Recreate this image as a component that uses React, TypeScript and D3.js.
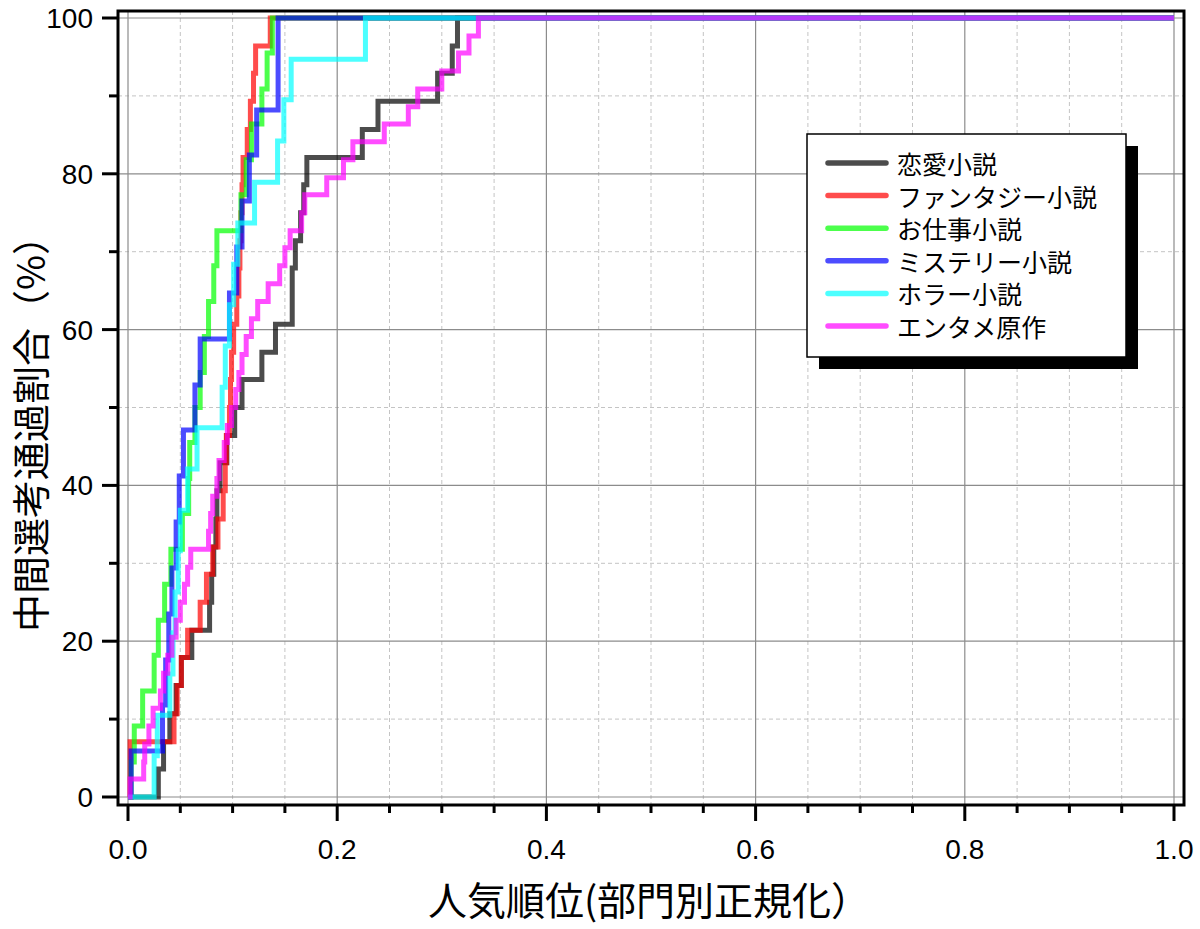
import { useEffect, useRef } from "react"
import * as d3 from "d3"

// step positions (normalized rank) and cumulative pass ratio (%)
const romanceX = [0.029, 0.034, 0.04, 0.046, 0.051, 0.061, 0.078, 0.08, 0.082, 0.084, 0.085, 0.088, 0.0945, 0.102, 0.109, 0.128, 0.141, 0.157, 0.157, 0.16, 0.165, 0.168, 0.171, 0.224, 0.239, 0.296, 0.31, 0.315]
const romanceY = [3.6, 7.1, 10.7, 14.3, 17.9, 21.4, 25.0, 28.6, 32.1, 35.7, 39.3, 42.9, 46.4, 50.0, 53.6, 57.1, 60.7, 64.3, 67.9, 71.4, 75.0, 78.6, 82.1, 85.7, 89.3, 92.9, 96.4, 100]

const fantasyX = [0.002, 0.002, 0.044, 0.047, 0.051, 0.057, 0.069, 0.075, 0.081, 0.086, 0.091, 0.093, 0.094, 0.097, 0.098, 0.099, 0.101, 0.104, 0.106, 0.107, 0.108, 0.109, 0.11, 0.114, 0.117, 0.12, 0.122, 0.136]
const fantasyY = [3.6, 7.1, 10.7, 14.3, 17.9, 21.4, 25.0, 28.6, 32.1, 35.7, 39.3, 42.9, 46.4, 50.0, 53.6, 57.1, 60.7, 64.3, 67.9, 71.4, 75.0, 78.6, 82.1, 85.7, 89.3, 92.9, 96.4, 100]

const workX = [0.003, 0.006, 0.014, 0.025, 0.029, 0.035, 0.041, 0.052, 0.058, 0.059, 0.064, 0.069, 0.073, 0.077, 0.082, 0.085, 0.108, 0.113, 0.118, 0.128, 0.133, 0.138]
const workY = [4.5, 9.1, 13.6, 18.2, 22.7, 27.3, 31.8, 36.4, 40.9, 45.5, 50.0, 54.5, 59.1, 63.6, 68.2, 72.7, 77.3, 81.8, 86.4, 90.9, 95.5, 100]

const mysteryX = [0.003, 0.033, 0.036, 0.039, 0.042, 0.046, 0.049, 0.053, 0.064, 0.069, 0.097, 0.104, 0.109, 0.116, 0.123, 0.1435, 0.1435]
const mysteryY = [5.9, 11.8, 17.6, 23.5, 29.4, 35.3, 41.2, 47.1, 52.9, 58.8, 64.7, 70.6, 76.5, 82.4, 88.2, 94.1, 100]

const horrorX = [0.025, 0.028, 0.04, 0.043, 0.045, 0.048, 0.05, 0.057, 0.066, 0.09, 0.093, 0.097, 0.101, 0.105, 0.121, 0.143, 0.149, 0.156, 0.227]
const horrorY = [5.3, 10.5, 15.8, 21.1, 26.3, 31.6, 36.8, 42.1, 47.4, 52.6, 57.9, 63.2, 68.4, 73.7, 78.9, 84.2, 89.5, 94.7, 100]

const entameX = [0.002, 0.015, 0.016, 0.02, 0.024, 0.031, 0.034, 0.038, 0.042, 0.046, 0.05, 0.054, 0.057, 0.06, 0.077, 0.079, 0.081, 0.085, 0.087, 0.092, 0.095, 0.099, 0.103, 0.106, 0.109, 0.113, 0.118, 0.124, 0.134, 0.145, 0.15, 0.155, 0.166, 0.169, 0.19, 0.206, 0.215, 0.245, 0.268, 0.277, 0.3, 0.316, 0.326, 0.335]
const entameY = [2.3, 4.5, 6.8, 9.1, 11.4, 13.6, 15.9, 18.2, 20.5, 22.7, 25.0, 27.3, 29.5, 31.8, 34.1, 36.4, 38.6, 40.9, 43.2, 45.5, 47.7, 50.0, 52.3, 54.5, 56.8, 59.1, 61.4, 63.6, 65.9, 68.2, 70.5, 72.7, 75.0, 77.3, 79.5, 81.8, 84.1, 86.4, 88.6, 90.9, 93.2, 95.5, 97.7, 100]

const seriesNames = ["恋愛小説", "ファンタジー小説", "お仕事小説", "ミステリー小説", "ホラー小説", "エンタメ原作"]
const seriesX = [romanceX, fantasyX, workX, mysteryX, horrorX, entameX]
const seriesY = [romanceY, fantasyY, workY, mysteryY, horrorY, entameY]
const seriesColors = ["#000000", "#ff0000", "#00ff00", "#0000ff", "#00ffff", "#ff00ff"]

const xTicks = [0, 0.2, 0.4, 0.6, 0.8, 1.0]
const yTicks = [0, 20, 40, 60, 80, 100]

const xTitle = "人気順位(部門別正規化）"
const yTitle = "中間選考通過割合（%）"

export default function App() {
  const svgRef = useRef<SVGSVGElement>(null)

  useEffect(() => {
    if (!svgRef.current) return
    const svg = d3.select(svgRef.current)
    svg.selectAll("*").remove()

    const width = 1200
    const height = 929
    const frame = { left: 118, top: 11, right: 1184, bottom: 805 }
    const numFont = "'Liberation Sans', Arial, sans-serif"
    const jpFont = "'Noto Sans CJK JP', 'Noto Sans', sans-serif"

    svg.attr("width", width).attr("height", height)
    svg.append("rect").attr("width", width).attr("height", height).attr("fill", "#fff")

    const x = d3.scaleLinear().domain([0, 1]).range([128, 1174])
    const y = d3.scaleLinear().domain([0, 100]).range([797, 18])

    // grid: dashed minor, solid major
    const grid = svg.append("g")
    const xMinor = d3.range(0, 1.0001, 0.05).filter((v) => Math.abs(v / 0.2 - Math.round(v / 0.2)) > 1e-6)
    const yMinor = d3.range(10, 100, 20)

    grid
      .selectAll("line.xminor")
      .data(xMinor)
      .enter()
      .append("line")
      .attr("x1", (d) => x(d))
      .attr("x2", (d) => x(d))
      .attr("y1", frame.top)
      .attr("y2", frame.bottom)
      .attr("stroke", "#c4c4c4")
      .attr("stroke-width", 1)
      .attr("stroke-dasharray", "4,3")

    grid
      .selectAll("line.yminor")
      .data(yMinor)
      .enter()
      .append("line")
      .attr("x1", frame.left)
      .attr("x2", frame.right)
      .attr("y1", (d) => y(d))
      .attr("y2", (d) => y(d))
      .attr("stroke", "#c4c4c4")
      .attr("stroke-width", 1)
      .attr("stroke-dasharray", "4,3")

    grid
      .selectAll("line.xmajor")
      .data(xTicks)
      .enter()
      .append("line")
      .attr("x1", (d) => x(d))
      .attr("x2", (d) => x(d))
      .attr("y1", frame.top)
      .attr("y2", frame.bottom)
      .attr("stroke", "#8c8c8c")
      .attr("stroke-width", 1.2)

    grid
      .selectAll("line.ymajor")
      .data(yTicks)
      .enter()
      .append("line")
      .attr("x1", frame.left)
      .attr("x2", frame.right)
      .attr("y1", (d) => y(d))
      .attr("y2", (d) => y(d))
      .attr("stroke", "#8c8c8c")
      .attr("stroke-width", 1.2)

    // step lines
    const line = d3
      .line<[number, number]>()
      .x((d) => x(d[0]))
      .y((d) => y(d[1]))
      .curve(d3.curveStepAfter)

    seriesNames.forEach((name, i) => {
      const pts: [number, number][] = [[0, 0]]
      seriesX[i].forEach((v, j) => pts.push([v, seriesY[i][j]]))
      pts.push([1, 100])
      svg
        .append("path")
        .datum(pts)
        .attr("fill", "none")
        .attr("stroke", seriesColors[i])
        .attr("stroke-opacity", 0.7)
        .attr("stroke-width", 5)
        .attr("stroke-linejoin", "miter")
        .attr("d", line)
    })

    // frame
    svg
      .append("rect")
      .attr("x", frame.left)
      .attr("y", frame.top)
      .attr("width", frame.right - frame.left)
      .attr("height", frame.bottom - frame.top)
      .attr("fill", "none")
      .attr("stroke", "#000")
      .attr("stroke-width", 3)

    // ticks
    const ticks = svg.append("g").attr("stroke", "#000").attr("stroke-width", 3)
    d3.range(0, 1.0001, 0.05).forEach((v) => {
      const major = Math.abs(v / 0.2 - Math.round(v / 0.2)) < 1e-6
      ticks
        .append("line")
        .attr("x1", x(v))
        .attr("x2", x(v))
        .attr("y1", frame.bottom)
        .attr("y2", frame.bottom + (major ? 16 : 8))
    })
    d3.range(0, 101, 10).forEach((v) => {
      const major = v % 20 === 0
      ticks
        .append("line")
        .attr("x1", frame.left)
        .attr("x2", frame.left - (major ? 16 : 9))
        .attr("y1", y(v))
        .attr("y2", y(v))
    })

    svg
      .append("g")
      .selectAll("text")
      .data(xTicks)
      .enter()
      .append("text")
      .attr("x", (d) => x(d))
      .attr("y", 859)
      .attr("text-anchor", "middle")
      .attr("font-family", numFont)
      .attr("font-size", 28)
      .text((d) => d.toFixed(1))

    svg
      .append("g")
      .selectAll("text")
      .data(yTicks)
      .enter()
      .append("text")
      .attr("x", 93)
      .attr("y", (d) => y(d) + 10)
      .attr("text-anchor", "end")
      .attr("font-family", numFont)
      .attr("font-size", 28)
      .text((d) => String(d))

    // axis titles
    svg
      .append("text")
      .attr("x", 649)
      .attr("y", 915)
      .attr("text-anchor", "middle")
      .attr("font-family", jpFont)
      .attr("font-size", 39)
      .text(xTitle)

    svg
      .append("text")
      .attr("transform", "translate(28,632) rotate(-90)")
      .attr("text-anchor", "start")
      .attr("dominant-baseline", "central")
      .attr("font-family", jpFont)
      .attr("font-size", 38)
      .text(yTitle)

    // legend
    const lg = { x: 807, y: 134, w: 319, h: 223 }
    svg
      .append("rect")
      .attr("x", lg.x + 12)
      .attr("y", lg.y + 12)
      .attr("width", lg.w)
      .attr("height", lg.h)
      .attr("fill", "#000")
    svg
      .append("rect")
      .attr("x", lg.x)
      .attr("y", lg.y)
      .attr("width", lg.w)
      .attr("height", lg.h)
      .attr("fill", "#fff")
      .attr("stroke", "#000")
      .attr("stroke-width", 1.5)

    const rows = svg
      .append("g")
      .selectAll("g")
      .data(seriesNames)
      .enter()
      .append("g")
      .attr("transform", (d, i) => `translate(0,${163 + i * 32.6})`)

    rows
      .append("line")
      .attr("x1", 828)
      .attr("x2", 886)
      .attr("stroke", (d, i) => seriesColors[i])
      .attr("stroke-opacity", 0.7)
      .attr("stroke-width", 5.5)
      .attr("stroke-linecap", "round")

    rows
      .append("text")
      .attr("x", 897)
      .attr("y", 0)
      .attr("dominant-baseline", "central")
      .attr("font-family", jpFont)
      .attr("font-size", 25)
      .text((d) => d)
  }, [])

  return <svg ref={svgRef} style={{ position: "absolute", left: 0, top: 0, display: "block" }}></svg>
}
